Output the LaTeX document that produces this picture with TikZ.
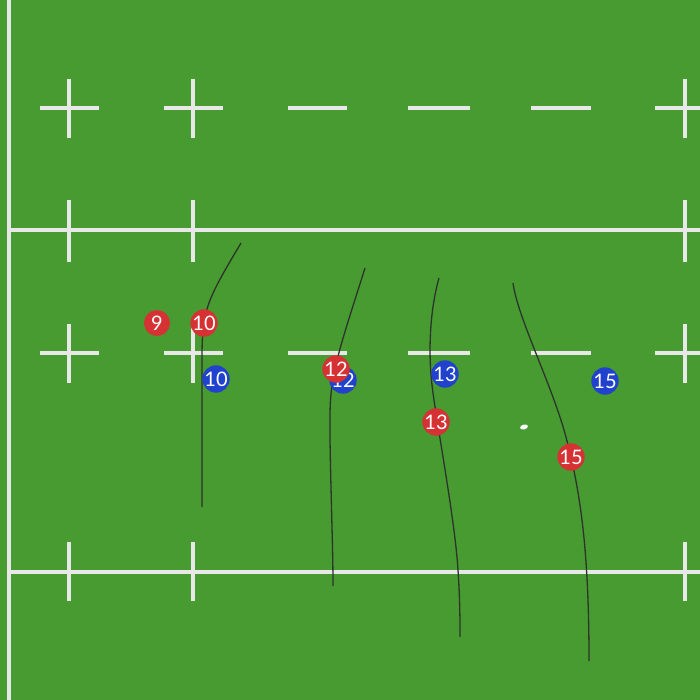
\documentclass[tikz,border=0pt]{standalone}
\usepackage{fontspec}
\setsansfont{Lato}
\usepackage{xcolor}

\definecolor{pitch}{RGB}{71,155,48}
\definecolor{chalk}{RGB}{232,232,232}
\definecolor{redside}{RGB}{214,50,52}
\definecolor{blueside}{RGB}{32,66,204}
\definecolor{runline}{RGB}{45,52,45}

\tikzset{
  markline/.style={chalk,line width=4pt},
  player/.style={circle,inner sep=0pt,minimum size=26pt,text=white,
    font=\sffamily\fontsize{20}{20}\selectfont},
  redplayer/.style={player,fill=redside},
  blueplayer/.style={player,fill=blueside},
  runpath/.style={runline,line width=1.3pt}
}

\begin{document}
\begin{tikzpicture}[x=1pt,y=-1pt]
% 场地
\fill[pitch] (0,0) rectangle (700,700);
\useasboundingbox (0,0) rectangle (700,700);
% 边线与横线
\draw[markline] (9,0) -- (9,700);
\draw[markline] (9,230) -- (700,230);
\draw[markline] (9,572) -- (700,572);
\foreach \x in {69,193,685} {
  \draw[markline] (\x,200) -- (\x,262);
  \draw[markline] (\x,542) -- (\x,601);
}
% 十字与虚线
\foreach \y in {108,353} {
  \foreach \x in {69,193} {
    \draw[markline] (\x-29,\y) -- (\x+30,\y);
    \draw[markline] (\x,\y-29) -- (\x,\y+30);
  }
  \draw[markline] (655,\y) -- (700,\y);
  \draw[markline] (685,\y-29) -- (685,\y+30);
  \draw[markline] (288,\y) -- (347,\y);
  \draw[markline] (408,\y) -- (470,\y);
  \draw[markline] (531,\y) -- (591,\y);
}
% 跑动路线
\draw[runpath] (241,243) .. controls (222,275) and (208,298) .. (205,318)
  .. controls (202,335) and (202,345) .. (202,360) -- (202,507);
\draw[runpath] (365,268) .. controls (355,300) and (340,345) .. (336,365)
  .. controls (329,395) and (330,410) .. (330,440)
  .. controls (331,500) and (333,550) .. (333,586);
\draw[runpath] (439,278) .. controls (430,310) and (428,350) .. (432,385)
  .. controls (436,420) and (455,520) .. (458,570)
  .. controls (460,600) and (460,620) .. (460,637);
\draw[runpath] (513,283) .. controls (518,320) and (555,390) .. (568,445)
  .. controls (582,500) and (589,560) .. (589,661);
% 球
\fill[white,rotate around={15:(524,427)}] (524,427) ellipse (4pt and 2.4pt);
% 蓝队
\node[blueplayer] (b10) at (216,379) {10};
\node[blueplayer] (b12) at (343,380) {12};
\node[blueplayer] (b13) at (445,374) {13};
\node[blueplayer] (b15) at (605,381) {15};
% 红队
\node[redplayer] (r9) at (157,323) {9};
\node[redplayer] (r10) at (204,323) {10};
\node[redplayer] (r12) at (336,369) {12};
\node[redplayer] (r13) at (436,422) {13};
\node[redplayer] (r15) at (571,457) {15};
\end{tikzpicture}
\end{document}
